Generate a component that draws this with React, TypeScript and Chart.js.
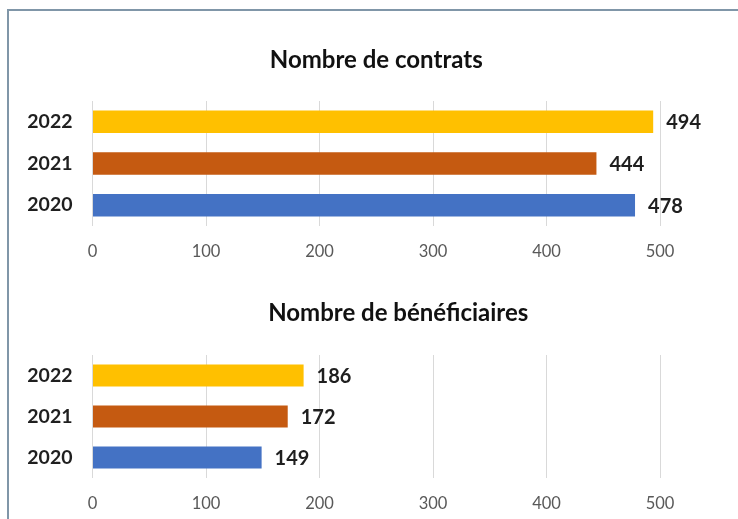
import React, { useEffect, useRef } from "react";
import { Chart, registerables } from "chart.js";

Chart.register(...registerables);

const categories = ["2022", "2021", "2020"];
const contrats = [494, 444, 478];
const beneficiaires = [186, 172, 149];
const barColors = ["#FFC000", "#C55A11", "#4472C4"];
const tickValues = [0, 100, 200, 300, 400, 500];
const titleContrats = "Nombre de contrats";
const titleBenef = "Nombre de bénéficiaires";

const FONT = "Lato";

const labelPlugin = {
  id: "valueLabels",
  afterDatasetsDraw(chart: any) {
    const ctx = chart.ctx;
    const meta = chart.getDatasetMeta(0);
    const data = chart.data.datasets[0].data;
    ctx.save();
    ctx.font = `bold 20px ${FONT}`;
    ctx.fillStyle = "#1f1f1f";
    ctx.textAlign = "left";
    ctx.textBaseline = "middle";
    meta.data.forEach((bar: any, i: number) => {
      ctx.fillText(String(data[i]), bar.x + 13, bar.y + 1);
    });
    ctx.restore();
  },
};

const titlePlugin = {
  id: "customTitle",
  afterDraw(chart: any, _args: any, opts: any) {
    const ctx = chart.ctx;
    const ca = chart.chartArea;
    ctx.save();
    ctx.font = `bold 24px ${FONT}`;
    ctx.fillStyle = "#111111";
    ctx.textAlign = "center";
    ctx.textBaseline = "middle";
    ctx.fillText(opts.text, (ca.left + ca.right) / 2 + (opts.dx || 0), opts.y);
    ctx.restore();
  },
};

function makeConfig(values: number[], title: string, dx: number, titleY: number, top: number, xHeight: number) {
  return {
    type: "bar" as const,
    data: {
      labels: categories,
      datasets: [
        {
          data: values,
          backgroundColor: barColors,
          categoryPercentage: 1,
          barPercentage: 0.54,
        },
      ],
    },
    plugins: [labelPlugin, titlePlugin],
    options: {
      indexAxis: "y" as const,
      animation: false as const,
      responsive: false,
      layout: { padding: { left: 0, right: 78, top, bottom: 0 } },
      plugins: {
        legend: { display: false },
        tooltip: { enabled: false },
        title: { display: false },
        customTitle: { text: title, dx, y: titleY },
      },
      scales: {
        x: {
          min: 0,
          max: 500,
          afterBuildTicks(scale: any) {
            scale.ticks = tickValues.map((v) => ({ value: v }));
          },
          grid: { color: "#D9D9D9", drawTicks: false, lineWidth: 1 },
          border: { display: false },
          ticks: {
            padding: 16,
            color: "#595959",
            font: { family: FONT, size: 16.5 },
          },
          afterFit(scale: any) {
            scale.height = xHeight;
          },
        },
        y: {
          grid: { display: false },
          border: { display: false },
          ticks: {
            padding: 12,
            color: "#1f1f1f",
            font: { family: FONT, size: 19.5, weight: "bold" as const },
          },
          afterFit(scale: any) {
            scale.width = 92.5;
          },
        },
      },
    },
  };
}

function BarChart({ values, title, dx, titleY, top, xHeight, width, height }: any) {
  const ref = useRef<HTMLCanvasElement | null>(null);
  useEffect(() => {
    if (!ref.current) return;
    const chart = new Chart(ref.current, makeConfig(values, title, dx, titleY, top, xHeight) as any);
    return () => chart.destroy();
  }, []);
  return <canvas ref={ref} width={width} height={height} style={{ display: "block", width, height }} />;
}

export default function App() {
  return (
    <div style={{ position: "fixed", left: 0, top: 0, width: 738, height: 519, background: "#fff", overflow: "hidden" }}>
      <div
        style={{
          position: "absolute",
          left: 7,
          top: 9,
          width: 740,
          height: 520,
          borderLeft: "2px solid #8096A8",
          borderTop: "2px solid #8096A8",
        }}
      />
      <div style={{ position: "absolute", left: 0, top: 0 }}>
        <BarChart values={contrats} title={titleContrats} dx={0} titleY={60} top={101} xHeight={39} width={738} height={265} />
      </div>
      <div style={{ position: "absolute", left: 0, top: 260 }}>
        <BarChart values={beneficiaires} title={titleBenef} dx={22} titleY={53} top={95} xHeight={41} width={738} height={259} />
      </div>
    </div>
  );
}
